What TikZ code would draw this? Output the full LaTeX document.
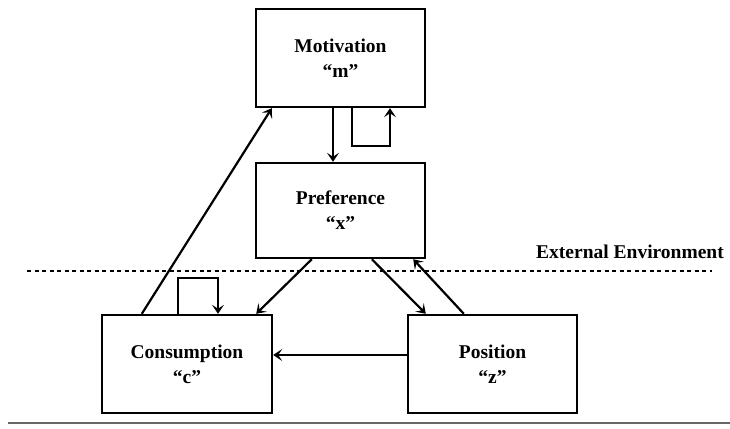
\documentclass[tikz,border=0pt]{standalone}
\usepackage{fontspec}
\setmainfont{Liberation Serif}
\usetikzlibrary{arrows.meta}
\begin{document}
\begin{tikzpicture}[x=1pt,y=-1pt,
  box/.style={draw,line width=2.4pt,rectangle,inner sep=0pt,align=center,
    font=\fontsize{19.5}{25}\selectfont\bfseries},
  conn/.style={line width=2.2pt,-{Stealth[length=9pt,width=12pt,inset=4pt]}}]
\useasboundingbox (0,0) rectangle (730,428);
\node[box,minimum width=169pt,minimum height=98pt] (m) at (340.5,58) {Motivation\\“m”};
\node[box,minimum width=169pt,minimum height=95pt] (x) at (340.5,210.5) {Preference\\“x”};
\node[box,minimum width=170pt,minimum height=98pt] (c) at (187,364) {Consumption\\“c”};
\node[box,minimum width=169pt,minimum height=98pt] (z) at (492.5,364) {Position\\“z”};
\coordinate (dl) at (27,271);
\coordinate (dr) at (712,271);
\draw[line width=1.8pt,dash pattern=on 4pt off 3.5pt] (dl) -- (dr);
\node[font=\fontsize{19.5}{25}\selectfont\bfseries] (env) at (630,252) {External Environment};
\coordinate (bl) at (8,423);
\coordinate (br) at (730,423);
\draw[line width=1.6pt,black!60] (bl) -- (br);
% connectors
\draw[conn] ([xshift=41pt]c.north west) -- ([xshift=17pt]m.south west);
\draw[conn] ([xshift=-7.5pt]m.south) -- ([xshift=-7.5pt]x.north);
\draw[conn] ([xshift=11.5pt]m.south) -- ++(0,38) -| ([xshift=49.5pt]m.south);
\draw[conn] ([xshift=-9pt]c.north) -- ++(0,-36) -| ([xshift=31pt]c.north);
\draw[conn] ([xshift=57pt]x.south west) -- ([xshift=-17pt]c.north east);
\draw[conn] ([xshift=117pt]x.south west) -- ([xshift=19pt]z.north west);
\draw[conn] ([xshift=57pt]z.north west) -- ([xshift=-13pt]x.south east);
\draw[conn] ([yshift=9pt]z.west) -- ([yshift=9pt]c.east);
\end{tikzpicture}
\end{document}
